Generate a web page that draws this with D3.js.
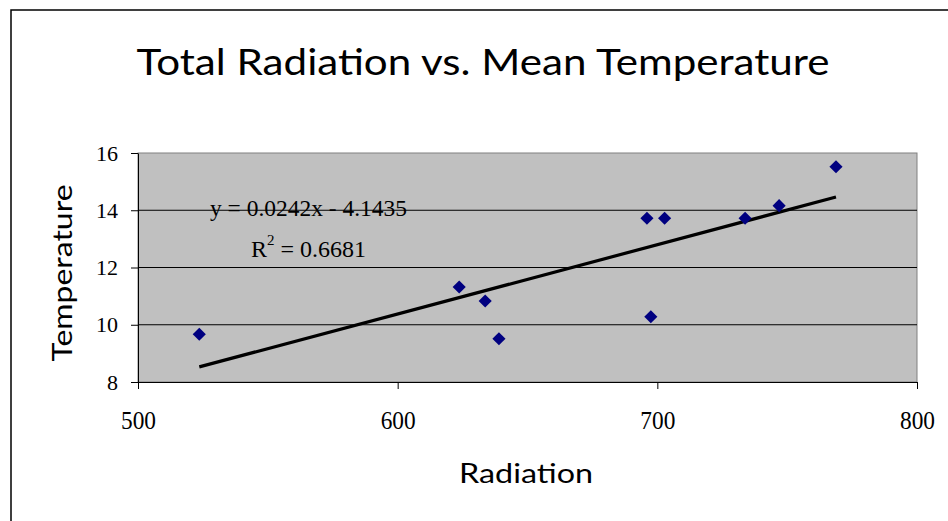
<!doctype html>
<html lang="en">
<head>
<meta charset="utf-8">
<title>Total Radiation vs. Mean Temperature</title>
<script src="https://d3js.org/d3.v7.min.js"></script>
<style>
  body { margin: 0; background: #fff; }
  svg { display: block; }
  .tick text { font-family: "Liberation Serif", "DejaVu Serif", serif; fill: #000; }
  .hand { font-family: "Lato", "Noto Sans", sans-serif; fill: #000; }
</style>
</head>
<body>
<svg id="chart" width="948" height="521"></svg>
<script>
var radiation   = [523.6, 623.7, 633.7, 639.0, 696.0, 702.8, 697.5, 733.8, 746.9, 768.8];
var temperature = [9.67, 11.32, 10.83, 9.51, 13.72, 13.72, 10.28, 13.72, 14.16, 15.52];
var xTicks = [500, 600, 700, 800];
var yTicks = [8, 10, 12, 14, 16];
var slope = 0.0242, intercept = -4.1435, rSquared = 0.6681;

var width = 948, height = 521;
var plot = {left: 138, right: 917, top: 153, bottom: 382};

var svg = d3.select("#chart");

// outer frame (only top and left edges show in the crop)
svg.append("path")
  .attr("d", "M11,521 L11,10 L948,10")
  .attr("fill", "none").attr("stroke", "#000").attr("stroke-width", 1.5);

var x = d3.scaleLinear().domain([500, 800]).range([plot.left, plot.right]);
var y = d3.scaleLinear().domain([8, 16]).range([plot.bottom, plot.top]);

// plot area
svg.append("rect")
  .attr("x", plot.left).attr("y", plot.top)
  .attr("width", plot.right - plot.left).attr("height", plot.bottom - plot.top)
  .attr("fill", "#c0c0c0").attr("stroke", "#808080").attr("stroke-width", 1);

// gridlines
svg.append("g").selectAll("line")
  .data(yTicks.slice(1, -1)).enter().append("line")
  .attr("x1", plot.left).attr("x2", plot.right)
  .attr("y1", function(d) { return y(d); }).attr("y2", function(d) { return y(d); })
  .attr("stroke", "#000").attr("stroke-width", 1);

// axes
var xAxis = svg.append("g").attr("transform", "translate(0," + plot.bottom + ")")
  .call(d3.axisBottom(x).tickValues(xTicks).tickSize(7).tickSizeOuter(0));
xAxis.selectAll(".tick text")
  .attr("y", 47).attr("dy", null)
  .style("font-size", "26px")
  .attr("textLength", 35).attr("lengthAdjust", "spacingAndGlyphs");

var yAxis = svg.append("g").attr("transform", "translate(" + plot.left + ",0)")
  .call(d3.axisLeft(y).tickValues(yTicks).tickSize(7).tickPadding(13).tickSizeOuter(0));
yAxis.selectAll(".tick text").style("font-size", "22px");

[xAxis, yAxis].forEach(function(a) {
  a.select(".domain").attr("stroke", "#000");
  a.selectAll(".tick line").attr("stroke", "#000");
});

// trendline over the data range
var xr = d3.extent(radiation);
svg.append("path")
  .datum(xr)
  .attr("d", d3.line()
    .x(function(d) { return x(d); })
    .y(function(d) { return y(slope * d + intercept); }))
  .attr("fill", "none").attr("stroke", "#000").attr("stroke-width", 3.2);

// points
var diamond = d3.symbol().type(d3.symbolDiamond2).size(110);
svg.append("g").selectAll("path")
  .data(radiation).enter().append("path")
  .attr("d", diamond)
  .attr("transform", function(d, i) { return "translate(" + x(d) + "," + y(temperature[i]) + ")"; })
  .attr("fill", "#000080");

// equation
var eq = svg.append("g").style("font-family", "'Liberation Serif', serif").style("font-size", "24px");
eq.append("text").attr("x", 210).attr("y", 216)
  .attr("textLength", 197).attr("lengthAdjust", "spacingAndGlyphs")
  .text("y = " + slope.toFixed(4) + "x - " + Math.abs(intercept).toFixed(4));
var r2 = eq.append("text").attr("x", 251).attr("y", 257);
r2.append("tspan").text("R");
r2.append("tspan").attr("dy", -12).style("font-size", "15px").text("2");
r2.append("tspan").attr("dy", 12).text(" = " + rSquared.toFixed(4));

// titles
svg.append("text").attr("class", "hand")
  .attr("x", 483).attr("y", 75).attr("text-anchor", "middle")
  .style("font-size", "37px")
  .attr("textLength", 693).attr("lengthAdjust", "spacingAndGlyphs")
  .text("Total Radiation vs. Mean Temperature");

svg.append("text").attr("class", "hand")
  .attr("x", 526).attr("y", 483).attr("text-anchor", "middle")
  .style("font-size", "27px")
  .attr("textLength", 134).attr("lengthAdjust", "spacingAndGlyphs")
  .text("Radiation");

svg.append("text").attr("class", "hand")
  .attr("transform", "translate(72,273) rotate(-90)").attr("text-anchor", "middle")
  .style("font-size", "27px")
  .attr("textLength", 177).attr("lengthAdjust", "spacingAndGlyphs")
  .text("Temperature");
</script>
</body>
</html>
